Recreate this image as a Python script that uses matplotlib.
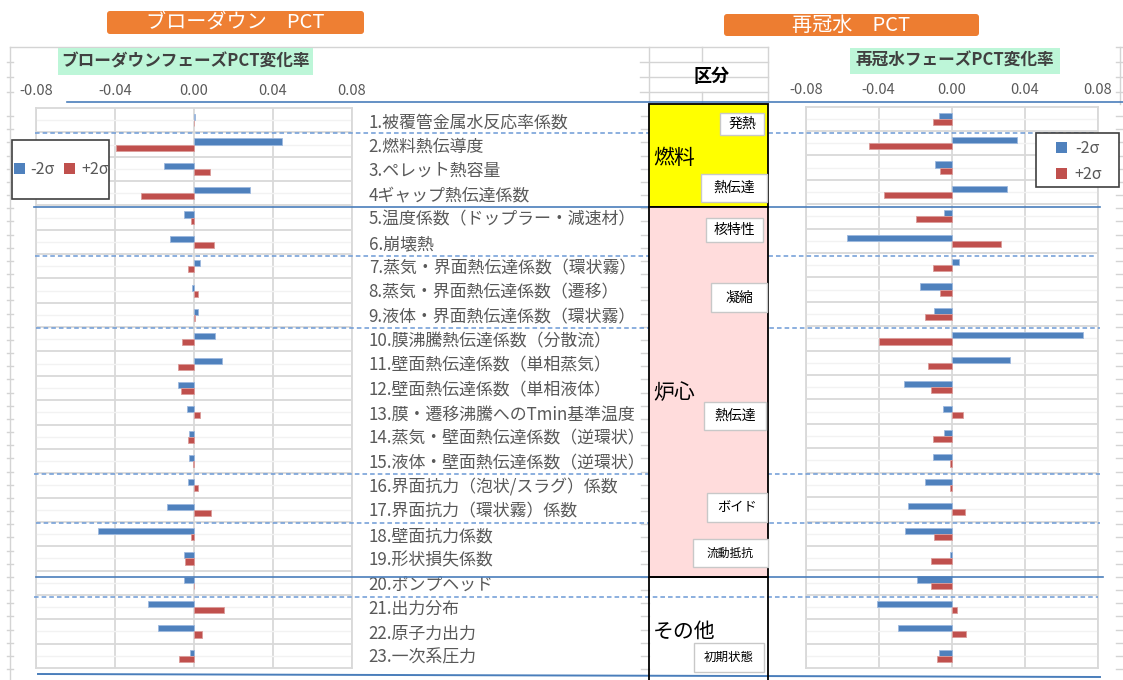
import matplotlib
matplotlib.use("Agg")
import matplotlib.pyplot as plt
from matplotlib.patches import Rectangle, FancyBboxPatch, Patch
import numpy as np

plt.rcParams['font.family'] = ['Noto Sans CJK JP', 'DejaVu Sans']

# --- data ---
categories = [
    "1.被覆管金属水反応率係数",
    "2.燃料熱伝導度",
    "3.ペレット熱容量",
    "4ギャップ熱伝達係数",
    "5.温度係数（ドップラー・減速材）",
    "6.崩壊熱",
    "7.蒸気・界面熱伝達係数（環状霧）",
    "8.蒸気・界面熱伝達係数（遷移）",
    "9.液体・界面熱伝達係数（環状霧）",
    "10.膜沸騰熱伝達係数（分散流）",
    "11.壁面熱伝達係数（単相蒸気）",
    "12.壁面熱伝達係数（単相液体）",
    "13.膜・遷移沸騰へのTmin基準温度",
    "14.蒸気・壁面熱伝達係数（逆環状）",
    "15.液体・壁面熱伝達係数（逆環状）",
    "16.界面抗力（泡状/スラグ）係数",
    "17.界面抗力（環状霧）係数",
    "18.壁面抗力係数",
    "19.形状損失係数",
    "20.ポンプヘッド",
    "21.出力分布",
    "22.原子力出力",
    "23.一次系圧力",
]

blowdown_minus = [0.0003, 0.0447, -0.0152, 0.0282, -0.0049, -0.0123, 0.0029, -0.0012,
                  0.0020, 0.0106, 0.0140, -0.0079, -0.0037, -0.0025, -0.0025, -0.0029,
                  -0.0138, -0.0484, -0.0049, -0.0052, -0.0235, -0.0182, -0.0019]
blowdown_plus = [0.0002, -0.0397, 0.0081, -0.0267, -0.0015, 0.0101, -0.0029, 0.0020,
                 0.0003, -0.0059, -0.0079, -0.0066, 0.0029, -0.0029, -0.0007, 0.0020,
                 0.0086, -0.0017, -0.0046, -0.0002, 0.0154, 0.0042, -0.0076]
reflood_minus = [-0.0069, 0.0358, -0.0091, 0.0305, -0.0040, -0.0575, 0.0038, -0.0174,
                 -0.0099, 0.0718, 0.0320, -0.0263, -0.0047, -0.0044, -0.0104, -0.0144,
                 -0.0237, -0.0256, -0.0007, -0.0188, -0.0411, -0.0292, -0.0069]
reflood_plus = [-0.0100, -0.0451, -0.0062, -0.0369, -0.0195, 0.0270, -0.0102, -0.0062,
                -0.0144, -0.0398, -0.0130, -0.0111, 0.0060, -0.0104, -0.0007, -0.0009,
                0.0073, -0.0099, -0.0115, -0.0111, 0.0031, 0.0077, -0.0080]

xticks = [-0.08, -0.04, 0.00, 0.04, 0.08]
series_labels = ["-2σ", "+2σ"]

banner_left = "ブローダウン　PCT"
banner_right = "再冠水　PCT"
title_left = "ブローダウンフェーズPCT変化率"
title_right = "再冠水フェーズPCT変化率"

BLUE = "#4F81BD"
RED = "#C0504D"
GRID = "#D9D9D9"
LINE = "#4A7EBB"

W, H = 1123, 680
fig = plt.figure(figsize=(W / 100, H / 100), dpi=100)


def box(x0, y0, x1, y1):
    # pixel box -> figure fraction rect
    return [x0 / W, 1 - y1 / H, (x1 - x0) / W, (y1 - y0) / H]


pos = np.arange(1, len(categories) + 1)


def draw_chart(ax, minus, plus, labels):
    ax.barh(pos - 0.125, minus, height=0.25, color=BLUE, edgecolor="#9DB9DF", linewidth=0.6, zorder=3)
    ax.barh(pos + 0.125, plus, height=0.25, color=RED, edgecolor="#DB9C9A", linewidth=0.6, zorder=3)
    ax.set_xlim(-0.08, 0.08)
    ax.set_ylim(len(categories) + 0.5, 0.5)
    ax.set_xticks(xticks)
    ax.set_xticklabels(["%.2f" % v for v in xticks])
    ax.xaxis.tick_top()
    ax.tick_params(axis="x", length=0, pad=7, labelsize=10.5, labelcolor="#595959")
    ax.set_yticks(pos)
    ax.set_yticks(pos[:-1] + 0.5, minor=True)
    ax.tick_params(axis="y", which="both", length=0)
    if labels:
        ax.yaxis.tick_right()
        ax.set_yticklabels(categories)
        ax.tick_params(axis="y", pad=12, labelsize=12.2, labelcolor="#595959")
    else:
        ax.set_yticklabels([])
    ax.grid(axis="x", color=GRID, lw=1.3)
    ax.grid(axis="y", which="minor", color=GRID, lw=1.3)
    ax.grid(axis="y", which="major", color="#F2F2F2", lw=1.0)
    ax.set_axisbelow(True)
    for s in ax.spines.values():
        s.set_color(GRID)
        s.set_linewidth(1.3)


ax_l = fig.add_axes(box(36, 108, 352, 668))
draw_chart(ax_l, blowdown_minus, blowdown_plus, True)
ax_r = fig.add_axes(box(805.7, 106.5, 1097.7, 668))
draw_chart(ax_r, reflood_minus, reflood_plus, False)

# overlay in pixel coordinates for the sheet decorations
ov = fig.add_axes([0, 0, 1, 1], zorder=5)
ov.set_xlim(0, W)
ov.set_ylim(H, 0)
ov.axis("off")
ov.patch.set_alpha(0)

# sheet cell grid peeking out around the charts
cell = "#D4D4D4"
ov.plot([10, 768], [47, 47], color=cell, lw=1)
ov.plot([1116, 1123], [47, 47], color=cell, lw=1)
ov.plot([10, 10], [47, 680], color=cell, lw=1)
for x in [649, 768, 1120]:
    ov.plot([x, x], [47, 104], color=cell, lw=1)
ov.plot([702, 702], [47, 62], color=cell, lw=1)
ov.plot([702, 702], [92, 104], color=cell, lw=1)
for y in [62, 77, 92]:
    ov.plot([640, 768], [y, y], color=cell, lw=1)
    ov.plot([1116, 1123], [y, y], color=cell, lw=1)
    ov.plot([7, 13], [y, y], color=cell, lw=1)
for y in np.arange(116, 680, 13.17):
    for x0, x1 in [(7, 13), (641, 649), (1116, 1123)]:
        ov.plot([x0, x1], [y, y], color=cell, lw=1)

# separators between groups
ov.plot([67, 1123], [102, 102], color=LINE, lw=1.2, zorder=2)
for y, x0, x1 in [(207, 34, 1100), (577, 36, 1103)]:
    ov.plot([x0, x1], [y, y], color=LINE, lw=1.2, zorder=2)
ov.plot([38, 1100], [674, 677], color=LINE, lw=1.4, zorder=2)
for y, x0, x1 in [(133, 35, 1095), (256, 35, 1095), (328, 36, 1100),
                  (474, 34, 1100), (523, 36, 1100), (597, 34, 1098)]:
    ov.plot([x0, x1], [y, y], color="#6C9AD6", lw=1.1, ls=(0, (3, 2)), zorder=2)

# category column
ov.text(712, 77, "区分", ha="center", va="center", fontsize=13, fontweight="bold", color="black", zorder=6)
ov.add_patch(Rectangle((649, 104), 119, 103, fc="#FFFF00", ec="black", lw=1.3, zorder=3))
ov.add_patch(Rectangle((649, 207), 119, 370, fc="#FFDCDC", ec="black", lw=1.3, zorder=3))
ov.add_patch(Rectangle((649, 577), 119, 110, fc="none", ec="black", lw=1.3, zorder=3))
ov.text(653, 158, "燃料", ha="left", va="center", fontsize=15, color="black", zorder=6)
ov.text(653, 393, "炉心", ha="left", va="center", fontsize=15, color="black", zorder=6)
ov.text(653, 632, "その他", ha="left", va="center", fontsize=15, color="black", zorder=6)

sub_boxes = [("発熱", 720, 113, 764, 135, 10),
             ("熱伝達", 701, 174, 767, 202, 10),
             ("核特性", 706, 218, 763, 242, 10),
             ("凝縮", 711, 283, 767, 312, 10),
             ("熱伝達", 704, 402, 766, 430, 10),
             ("ボイド", 707, 493, 767, 522, 9.5),
             ("流動抵抗", 693, 539, 768, 567, 8.5),
             ("初期状態", 694, 643, 764, 672, 9)]
for txt, x0, y0, x1, y1, fs in sub_boxes:
    ov.add_patch(Rectangle((x0, y0), x1 - x0, y1 - y0, fc="white", ec="#C8C8C8", lw=1, zorder=4))
    ov.text((x0 + x1) / 2, (y0 + y1) / 2, txt, ha="center", va="center", fontsize=fs, color="black", zorder=6)

# orange banners
ov.add_patch(FancyBboxPatch((107, 11), 257, 23, boxstyle="round,pad=0,rounding_size=3",
                            fc="#EE7F33", ec="none", zorder=3))
ov.text(235.5, 22.5, banner_left, ha="center", va="center", fontsize=14.5, color="white", zorder=6)
ov.add_patch(FancyBboxPatch((724, 14), 255, 22, boxstyle="round,pad=0,rounding_size=3",
                            fc="#ED7D31", ec="none", zorder=3))
ov.text(851.5, 25, banner_right, ha="center", va="center", fontsize=14.5, color="white", zorder=6)

# chart titles
ov.add_patch(Rectangle((58, 48), 255, 27, fc="#BDF6D8", ec="none", zorder=3))
ov.text(185.5, 61.5, title_left, ha="center", va="center", fontsize=12, fontweight="bold",
        color="#404040", zorder=6)
ov.add_patch(Rectangle((850, 48), 210, 26, fc="#BDF6D8", ec="none", zorder=3))
ov.text(955, 61, title_right, ha="center", va="center", fontsize=12, fontweight="bold",
        color="#404040", zorder=6)

# legends (white boxes drawn as patches, entries on top)
handles = [Patch(fc=BLUE), Patch(fc=RED)]
ov.add_patch(Rectangle((12, 140), 97, 59, fc="white", ec="#404040", lw=1.2, zorder=4))
ov.add_patch(Rectangle((1036, 133), 83, 54, fc="white", ec="#404040", lw=1.2, zorder=4))

leg_l = ov.legend(handles, series_labels, loc="center", bbox_to_anchor=(61, 169.5),
                  bbox_transform=ov.transData, ncol=2, frameon=False, fontsize=11.5,
                  labelcolor="#595959", handlelength=0.7, handleheight=0.7,
                  handletextpad=0.35, columnspacing=0.6, borderpad=0)
leg_l.set_zorder(7)
ov.add_artist(leg_l)
leg_r = ov.legend(handles, series_labels, loc="center", bbox_to_anchor=(1079, 161.5),
                  bbox_transform=ov.transData, ncol=1, frameon=False, fontsize=11.5,
                  labelcolor="#595959", handlelength=0.7, handleheight=0.7,
                  handletextpad=0.5, labelspacing=0.55, borderpad=0)
leg_r.set_zorder(7)

fig.savefig("out.png", dpi=100)
